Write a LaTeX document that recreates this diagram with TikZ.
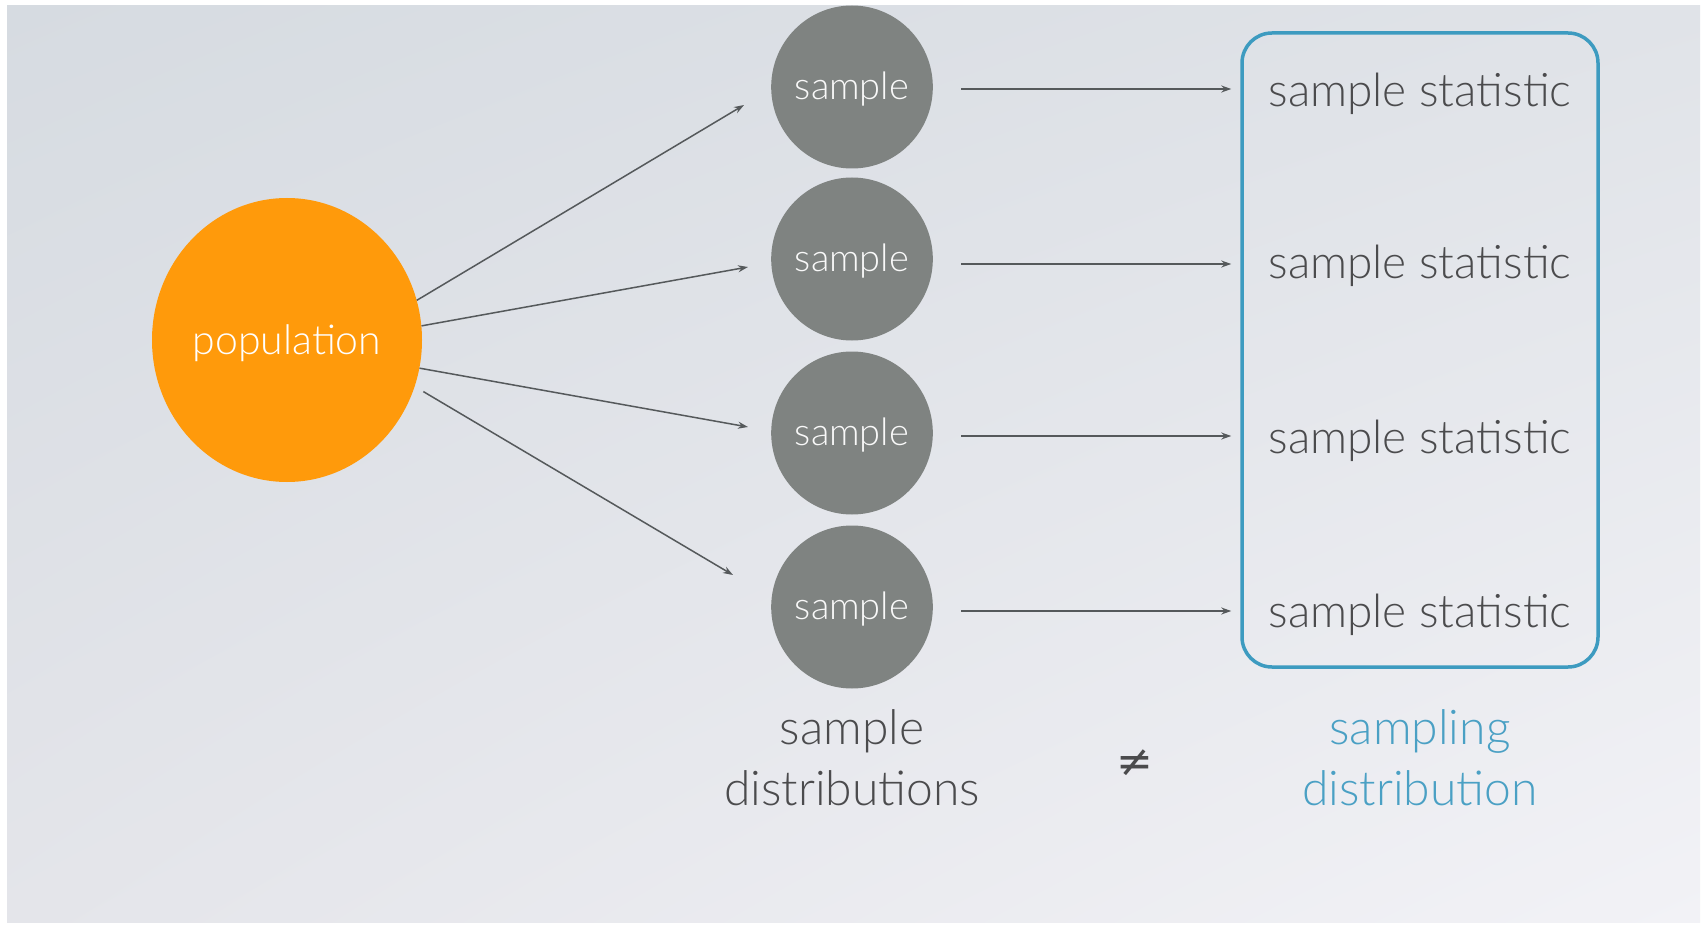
\documentclass[tikz,border=0pt]{standalone}
\usepackage{fontspec}
\setmainfont{Lato Light}
\newfontfamily\symbolfont{DejaVu Sans}
\usetikzlibrary{arrows.meta,shapes.geometric,shadings}
\definecolor{poporange}{HTML}{FF9A0B}
\definecolor{samplegray}{HTML}{7F8381}
\definecolor{linegray}{HTML}{55595B}
\definecolor{textgray}{HTML}{4B4B4D}
\definecolor{boxteal}{HTML}{3D9BC0}
\definecolor{labelteal}{HTML}{4AA0C4}
\definecolor{bgul}{HTML}{D6DBE1}
\definecolor{bgur}{HTML}{E0E3E8}
\definecolor{bgll}{HTML}{E4E5EA}
\definecolor{bglr}{HTML}{F2F2F6}
\begin{document}
\begin{tikzpicture}[x=1pt,y=-1pt,
  popnode/.style={ellipse, fill=poporange, minimum width=270pt, minimum height=284pt,
    inner sep=0pt, text depth=0pt, text=white, font=\fontsize{41}{41}\selectfont},
  samplenode/.style={ellipse, fill=samplegray, minimum width=159pt, minimum height=163pt,
    inner sep=0pt, text depth=3.5pt, text=white!95!gray, font=\fontsize{38}{38}\selectfont},
  statnode/.style={inner sep=0pt, text=textgray, font=\fontsize{46}{46}\selectfont},
  labelnode/.style={inner sep=0pt, align=center, font=\fontsize{48}{61}\selectfont},
  groupbox/.style={draw=boxteal, line width=3.5pt, rounded corners=30pt,
    minimum width=356pt, minimum height=634pt, inner sep=0pt},
  arr/.style={draw=linegray, line width=1.5pt, -{Stealth[length=10pt,width=7pt]}}]
\useasboundingbox (0,0) rectangle (1705,925);
% page background
\fill[white] (0,0) rectangle (1705,925);
\shade[upper left=bgul, upper right=bgur, lower left=bgll, lower right=bglr]
  (7,6) rectangle (1700,922);

% population and samples
\node[popnode] (pop) at (287,340) {population};
\node[samplenode] (s1) at (852,87) {sample};
\node[samplenode] (s2) at (852,259) {sample};
\node[samplenode] (s3) at (852,433) {sample};
\node[samplenode] (s4) at (852,607) {sample};

% group of statistics
\node[groupbox] (box) at (1420,350) {};
\node[statnode] (st1) at (1420,94) {sample statistic};
\node[statnode] (st2) at (1420,266) {sample statistic};
\node[statnode] (st3) at (1420,441) {sample statistic};
\node[statnode] (st4) at (1420,615) {sample statistic};

% bottom labels
\node[labelnode, text=textgray] (sd) at (852,758) {sample\\distributions};
\node[labelnode, text=labelteal] (smd) at (1420,758) {sampling\\distribution};
\node[text=textgray, inner sep=0pt, font=\symbolfont\fontsize{44}{44}\selectfont] (neq) at (1135,763) {≠};

% drawing samples from the population
\coordinate (t1) at (744,105);
\coordinate (t2) at (748,267);
\coordinate (t3) at (748,427);
\coordinate (t4) at (733,575);
\draw[arr] (pop.17) -- (t1);
\draw[arr] (pop.6) -- (t2);
\draw[arr] (pop.-12) -- (t3);
\draw[arr, shorten <=10pt] (pop.-20) -- (t4);

% each sample gives a statistic
\foreach \s/\dy in {s1/-2, s2/-5, s3/-3, s4/-4}{
  \draw[arr, shorten <=28pt, shorten >=9pt]
    ([yshift=\dy pt]\s.east) -- ([yshift=\dy pt]\s.east -| box.west);
}
\end{tikzpicture}
\end{document}
